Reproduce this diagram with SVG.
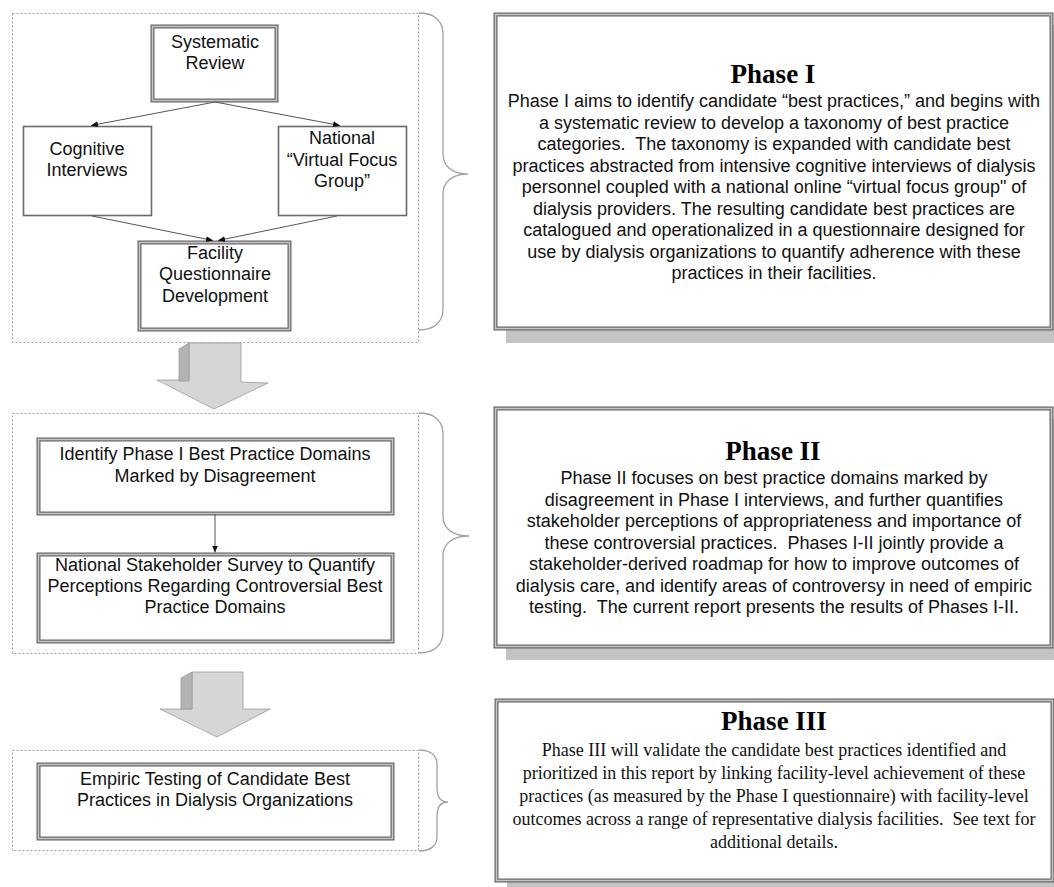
<svg xmlns="http://www.w3.org/2000/svg" width="1054" height="887" viewBox="0 0 1054 887">
<style>
.n{font-family:"Liberation Sans",Arial,sans-serif;font-size:18px;fill:#111;text-anchor:middle;white-space:pre}
.t{font-family:"Liberation Serif","Times New Roman",serif;font-weight:bold;font-size:27px;fill:#000;text-anchor:middle}
.s{font-family:"Liberation Serif","Times New Roman",serif;font-size:18px;fill:#111;text-anchor:middle;white-space:pre}
.dash{fill:none;stroke:#9a9a9a;stroke-width:1;stroke-dasharray:2,2}
.brace{fill:none;stroke:#a0a0a0;stroke-width:1.3}
.dblo{fill:#fff;stroke:#666;stroke-width:4}
.dbli{fill:none;stroke:#c4c4c4;stroke-width:1.6}
.sgl{fill:#fff;stroke:#6a6a6a;stroke-width:1.6}
.shadow{fill:#c4c4c4}
.conn{fill:none;stroke:#555;stroke-width:1}
.front{fill:#d6d6d6;stroke:#9a9a9a;stroke-width:0.8}
.side{fill:#b3b3b3;stroke:#9a9a9a;stroke-width:0.8}
</style>
<defs>
<marker id="ah" markerWidth="8" markerHeight="8" refX="7" refY="4" orient="auto" markerUnits="userSpaceOnUse">
<path d="M0,1 L7,4 L0,7 Z" fill="#111"/>
</marker>
</defs>
<rect width="1054" height="887" fill="#fff"/>

<!-- Dashed group frames -->
<g id="frames">
<rect class="dash" x="12.5" y="13.5" width="406" height="329"/>
<rect class="dash" x="12.5" y="413.5" width="406" height="240"/>
<rect class="dash" x="12.5" y="750.5" width="406" height="100"/>
</g>

<!-- Braces -->
<g id="braces">
<path class="brace" d="M419,13 C433,13 443,20 443,34 V154 C443,166 452,174 468,174 C452,174 443,182 443,194 V309 C443,323 433,330 419,330"/>
<path class="brace" d="M419,413 C433,413 443,420 443,434 V516 C443,528 452,536 469,536 C452,536 443,544 443,556 V632 C443,646 433,653 419,653"/>
<path class="brace" d="M419,750 C430,750 437,755 437,765 V788 C437,797 441,802 448,802 C441,802 437,807 437,816 V837 C437,846 430,851 419,851"/>
</g>

<!-- Phase I internal nodes -->
<g id="node-systematic-review">
<rect class="dblo" x="152.5" y="26.5" width="124" height="74"/>
<rect class="dbli" x="152.5" y="26.5" width="124" height="74"/>
<text class="n" x="215" y="48">Systematic</text>
<text class="n" x="215" y="69">Review</text>
</g>
<g id="node-cognitive-interviews">
<rect class="sgl" x="23.5" y="126.5" width="128" height="89"/>
<text class="n" x="87" y="155">Cognitive</text>
<text class="n" x="87" y="176">Interviews</text>
</g>
<g id="node-virtual-focus-group">
<rect class="sgl" x="278.5" y="126.5" width="128" height="89"/>
<text class="n" x="342" y="144">National</text>
<text class="n" x="342" y="166">“Virtual Focus</text>
<text class="n" x="342" y="187">Group”</text>
</g>
<g id="node-facility-questionnaire">
<rect class="dblo" x="139.5" y="242.5" width="150" height="87"/>
<rect class="dbli" x="139.5" y="242.5" width="150" height="87"/>
<text class="n" x="215" y="259">Facility</text>
<text class="n" x="215" y="280">Questionnaire</text>
<text class="n" x="215" y="302">Development</text>
</g>

<!-- Phase II internal nodes -->
<g id="node-identify-domains">
<rect class="dblo" x="38.5" y="439.5" width="354" height="74"/>
<rect class="dbli" x="38.5" y="439.5" width="354" height="74"/>
<text class="n" x="215" y="460">Identify Phase I Best Practice Domains</text>
<text class="n" x="215" y="482">Marked by Disagreement</text>
</g>
<g id="node-stakeholder-survey">
<rect class="dblo" x="38.5" y="554.5" width="354" height="87"/>
<rect class="dbli" x="38.5" y="554.5" width="354" height="87"/>
<text class="n" x="215" y="571">National Stakeholder Survey to Quantify</text>
<text class="n" x="215" y="592">Perceptions Regarding Controversial Best</text>
<text class="n" x="215" y="613">Practice Domains</text>
</g>

<!-- Phase III internal node -->
<g id="node-empiric-testing">
<rect class="dblo" x="38.5" y="764.5" width="354" height="74"/>
<rect class="dbli" x="38.5" y="764.5" width="354" height="74"/>
<text class="n" x="215" y="785">Empiric Testing of Candidate Best</text>
<text class="n" x="215" y="806">Practices in Dialysis Organizations</text>
</g>

<!-- Connectors -->
<g id="connectors">
<line class="conn" x1="215" y1="102" x2="91" y2="125.5" marker-end="url(#ah)"/>
<line class="conn" x1="215" y1="102" x2="340" y2="125.5" marker-end="url(#ah)"/>
<line class="conn" x1="92" y1="216" x2="213" y2="240.5" marker-end="url(#ah)"/>
<line class="conn" x1="337" y1="216" x2="218" y2="240.5" marker-end="url(#ah)"/>
<line class="conn" x1="215" y1="514" x2="215" y2="552.5" marker-end="url(#ah)"/>
</g>

<!-- Big block arrows -->
<g id="arrow-1">
<polygon class="front" points="189,343 241,343 241,382 268,383 214,409 157,380 189,380"/>
<polygon class="side" points="179,349 189,343 189,381 179,381"/>
</g>
<g id="arrow-2">
<polygon class="front" points="192,672 243,672 243,709 270,709 217,737 160,709 192,709"/>
<polygon class="side" points="181,678 192,672 192,709 181,709"/>
</g>

<!-- Phase description boxes -->
<g id="phase-1">
<rect class="shadow" x="506" y="25" width="560" height="318"/>
<rect class="dblo" x="495.5" y="14.5" width="556" height="314"/>
<rect class="dbli" x="495.5" y="14.5" width="556" height="314"/>
<text class="t" x="773" y="83">Phase I</text>
<text class="n" x="774" y="107">Phase I aims to identify candidate “best practices,” and begins with</text>
<text class="n" x="774" y="129">a systematic review to develop a taxonomy of best practice</text>
<text class="n" x="774" y="150">categories.  The taxonomy is expanded with candidate best</text>
<text class="n" x="774" y="172">practices abstracted from intensive cognitive interviews of dialysis</text>
<text class="n" x="774" y="193">personnel coupled with a national online “virtual focus group" of</text>
<text class="n" x="774" y="215">dialysis providers. The resulting candidate best practices are</text>
<text class="n" x="774" y="236">catalogued and operationalized in a questionnaire designed for</text>
<text class="n" x="774" y="258">use by dialysis organizations to quantify adherence with these</text>
<text class="n" x="774" y="279">practices in their facilities.</text>
</g>
<g id="phase-2">
<rect class="shadow" x="506" y="419" width="560" height="241"/>
<rect class="dblo" x="495.5" y="408.5" width="556" height="238"/>
<rect class="dbli" x="495.5" y="408.5" width="556" height="238"/>
<text class="t" x="773" y="460">Phase II</text>
<text class="n" x="774" y="484">Phase II focuses on best practice domains marked by</text>
<text class="n" x="774" y="506">disagreement in Phase I interviews, and further quantifies</text>
<text class="n" x="774" y="527">stakeholder perceptions of appropriateness and importance of</text>
<text class="n" x="774" y="549">these controversial practices.  Phases I-II jointly provide a</text>
<text class="n" x="774" y="570">stakeholder-derived roadmap for how to improve outcomes of</text>
<text class="n" x="774" y="592">dialysis care, and identify areas of controversy in need of empiric</text>
<text class="n" x="774" y="613">testing.  The current report presents the results of Phases I-II.</text>
</g>
<g id="phase-3">
<rect class="shadow" x="507" y="711" width="560" height="185"/>
<rect class="dblo" x="496.5" y="700.5" width="556" height="180"/>
<rect class="dbli" x="496.5" y="700.5" width="556" height="180"/>
<text class="t" x="774" y="730">Phase III</text>
<text class="s" x="774" y="756">Phase III will validate the candidate best practices identified and</text>
<text class="s" x="774" y="779">prioritized in this report by linking facility-level achievement of these</text>
<text class="s" x="774" y="802">practices (as measured by the Phase I questionnaire) with facility-level</text>
<text class="s" x="774" y="825">outcomes across a range of representative dialysis facilities.  See text for</text>
<text class="s" x="774" y="848">additional details.</text>
</g>
</svg>
